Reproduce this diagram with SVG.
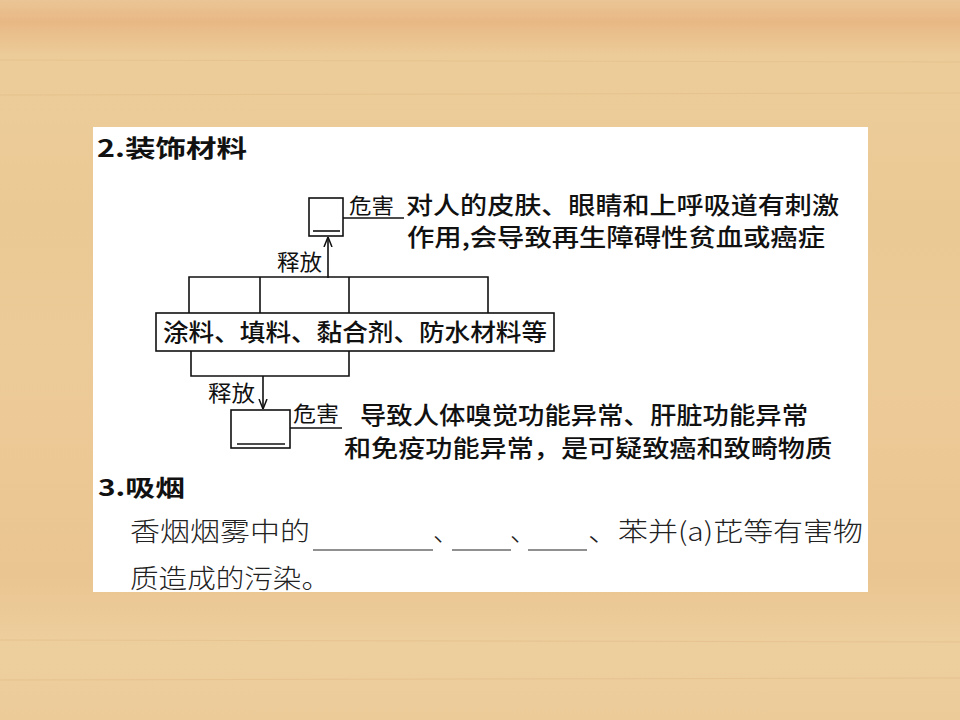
<svg xmlns="http://www.w3.org/2000/svg" width="960" height="720" viewBox="0 0 960 720">
<style>
.t{font-family:"Noto Sans CJK SC","Noto Sans CJK TC",sans-serif;fill:#111}
.b{font-weight:bold}
.m{font-weight:500}
.s{font-weight:300;fill:#222}
.ln{stroke:#111;stroke-width:1.6;fill:none}
.bx{stroke:#111;stroke-width:1.6;fill:#fff}
</style>
<defs>
<linearGradient id="bg" x1="0" y1="0" x2="0" y2="1">
<stop offset="0" stop-color="#EBC596"/>
<stop offset="0.03" stop-color="#E8B884"/>
<stop offset="0.08" stop-color="#ECCD9A"/>
<stop offset="0.3" stop-color="#EBC995"/>
<stop offset="0.5" stop-color="#EDCB98"/>
<stop offset="0.8" stop-color="#EAC591"/>
<stop offset="0.9" stop-color="#EDCF9E"/>
<stop offset="1" stop-color="#ECCB99"/>
</linearGradient>
<marker id="ah" viewBox="0 0 10 10" refX="10" refY="5" markerWidth="10" markerHeight="10" markerUnits="userSpaceOnUse" orient="auto">
<path d="M0,1 L10,5 L0,9" fill="none" stroke="#111" stroke-width="1.5"/>
</marker>
</defs>
<rect x="0" y="0" width="960" height="720" fill="url(#bg)"/>
<g opacity="0.25" stroke="#D9A56E" stroke-width="1">
<line x1="0" y1="60" x2="960" y2="62"/>
<line x1="0" y1="95" x2="960" y2="93"/>
<line x1="0" y1="640" x2="960" y2="642"/>
<line x1="0" y1="680" x2="960" y2="678"/>
</g>
<rect id="panel" x="93" y="127" width="775" height="465" fill="#fff"/>

<text class="t b" x="97" y="157" font-size="24" textLength="150" lengthAdjust="spacingAndGlyphs">2.装饰材料</text>

<g id="connectors">
<line class="ln" x1="343" y1="218" x2="404" y2="218"/>
<line class="ln" x1="328" y1="278" x2="328" y2="237" marker-end="url(#ah)"/>
<polyline class="ln" points="189,313 189,277 488,277 488,313"/>
<line class="ln" x1="260" y1="277" x2="260" y2="313"/>
<line class="ln" x1="349" y1="277" x2="349" y2="313"/>
<polyline class="ln" points="191,351 191,376 349,376 349,351"/>
<line class="ln" x1="263" y1="376" x2="263" y2="409" marker-end="url(#ah)"/>
<line class="ln" x1="290" y1="428" x2="342" y2="428"/>
</g>

<g id="node-top">
<rect class="bx" x="309" y="198" width="34" height="38"/>
<line class="ln" x1="313" y1="231" x2="340" y2="231"/>
</g>
<g id="label-top-harm">
<text class="t" x="349" y="213" font-size="21" textLength="45" lengthAdjust="spacingAndGlyphs">危害</text>
<text class="t m" x="406" y="214" font-size="24" textLength="433" lengthAdjust="spacingAndGlyphs">对人的皮肤、眼睛和上呼吸道有刺激</text>
<text class="t m" x="407" y="246" font-size="24" textLength="418" lengthAdjust="spacingAndGlyphs">作用,会导致再生障碍性贫血或癌症</text>
</g>
<text class="t" x="277" y="270" font-size="22" textLength="45" lengthAdjust="spacingAndGlyphs">释放</text>

<g id="node-main">
<rect class="bx" x="156" y="313" width="398" height="38"/>
<text class="t m" x="163" y="341" font-size="24" textLength="384" lengthAdjust="spacingAndGlyphs">涂料、填料、黏合剂、防水材料等</text>
</g>

<text class="t" x="208" y="401" font-size="22" textLength="47" lengthAdjust="spacingAndGlyphs">释放</text>

<g id="node-bottom">
<rect class="bx" x="231" y="410" width="59" height="38"/>
<line class="ln" x1="237" y1="444" x2="285" y2="444"/>
</g>
<g id="label-bottom-harm">
<text class="t" x="293" y="421" font-size="21" textLength="46" lengthAdjust="spacingAndGlyphs">危害</text>
<text class="t m" x="360" y="424" font-size="24" textLength="448" lengthAdjust="spacingAndGlyphs">导致人体嗅觉功能异常、肝脏功能异常</text>
<text class="t m" x="344" y="457" font-size="24" textLength="488" lengthAdjust="spacingAndGlyphs">和免疫功能异常，是可疑致癌和致畸物质</text>
</g>

<text class="t b" x="98" y="496" font-size="23" textLength="87" lengthAdjust="spacingAndGlyphs">3.吸烟</text>

<g id="smoking-text">
<text class="t s" x="130" y="541" font-size="26" textLength="180" lengthAdjust="spacingAndGlyphs">香烟烟雾中的</text>
<line stroke="#222" stroke-width="1.2" x1="313" y1="550" x2="433" y2="550"/>
<text class="t s" x="433" y="541" font-size="26">、</text>
<line stroke="#222" stroke-width="1.2" x1="452" y1="550" x2="511" y2="550"/>
<text class="t s" x="510" y="541" font-size="26">、</text>
<line stroke="#222" stroke-width="1.2" x1="528" y1="550" x2="587" y2="550"/>
<text class="t s" x="588" y="541" font-size="26" textLength="275" lengthAdjust="spacingAndGlyphs">、苯并(a)芘等有害物</text>
<text class="t s" x="130" y="588" font-size="26" textLength="200" lengthAdjust="spacingAndGlyphs">质造成的污染。</text>
</g>
</svg>
